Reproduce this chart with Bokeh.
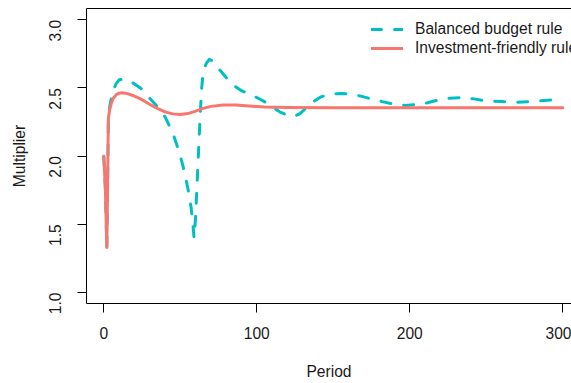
from bokeh.plotting import figure
from bokeh.models import (Range1d, FixedTicker, LinearAxis, Legend, LegendItem,
                          PrintfTickFormatter, ColumnDataSource)
from bokeh.embed import file_html
from bokeh.resources import INLINE
import math

# Multiplier paths by period under the two fiscal rules
balanced_period = [0, 1, 2, 3, 4, 5, 6, 8, 10, 13, 16, 20, 24, 28, 32, 36, 40, 43,
                   46, 49, 51, 53, 55, 57, 58, 59, 60, 61, 62, 63, 64, 65, 67, 69,
                   71, 73, 76, 79, 82, 86, 90, 95, 100, 105, 110, 115, 120, 124,
                   128, 132, 137, 142, 148, 155, 162, 168, 175, 182, 190, 197,
                   204, 211, 218, 226, 234, 242, 250, 260, 270, 280, 290, 300]
balanced_value = [2.00, 1.77, 1.33, 2.28, 2.37, 2.43, 2.48, 2.53, 2.56, 2.565, 2.555,
                  2.53, 2.50, 2.45, 2.40, 2.35, 2.29, 2.22, 2.14, 2.04, 1.96, 1.87,
                  1.76, 1.63, 1.53, 1.40, 1.55, 1.80, 2.05, 2.30, 2.50, 2.62, 2.68,
                  2.71, 2.70, 2.67, 2.63, 2.59, 2.55, 2.51, 2.48, 2.455, 2.43, 2.40,
                  2.36, 2.325, 2.30, 2.29, 2.31, 2.35, 2.40, 2.435, 2.455, 2.46,
                  2.455, 2.44, 2.42, 2.40, 2.38, 2.372, 2.378, 2.39, 2.41, 2.425,
                  2.43, 2.42, 2.405, 2.40, 2.395, 2.40, 2.41, 2.415]

invest_period = [0, 1, 2, 3, 4, 5, 6, 8, 10, 12, 15, 19, 24, 30, 35, 40, 45, 50,
                 55, 60, 65, 70, 78, 86, 95, 105, 120, 150, 200, 250, 300]
invest_value = [2.00, 1.77, 1.33, 2.28, 2.35, 2.39, 2.42, 2.45, 2.462, 2.465, 2.46,
                2.445, 2.42, 2.38, 2.35, 2.325, 2.31, 2.305, 2.312, 2.33, 2.35,
                2.365, 2.375, 2.375, 2.368, 2.36, 2.357, 2.355, 2.355, 2.355, 2.355]

series_labels = ["Balanced budget rule", "Investment-friendly rule"]
x_ticks = [0, 100, 200, 300]
y_ticks = [1.0, 1.5, 2.0, 2.5, 3.0]

TEAL = "#00BFC4"
SALMON = "#F8766D"
FONT = "Liberation Sans"
FS = "15.6px"

p = figure(width=571, height=383, output_backend="svg", toolbar_location=None,
           x_range=Range1d(-11.3, 305.7), y_range=Range1d(0.919, 3.083),
           min_border_left=86, min_border_right=0, min_border_top=8,
           min_border_bottom=80, x_axis_type=None, y_axis_type=None)
p.outline_line_color = None
p.grid.visible = False
p.background_fill_color = "white"
p.border_fill_color = "white"

def style_axis(ax):
    ax.axis_line_color = "black"
    ax.axis_line_width = 1
    ax.major_tick_line_color = "black"
    ax.major_tick_in = 0
    ax.major_tick_out = 9
    ax.minor_tick_in = 0
    ax.minor_tick_out = 0
    ax.major_label_text_font = FONT
    ax.major_label_text_font_size = FS
    ax.major_label_text_color = "#1a1a1a"
    ax.axis_label_text_font = FONT
    ax.axis_label_text_font_size = FS
    ax.axis_label_text_font_style = "normal"
    ax.axis_label_text_color = "#1a1a1a"

xaxis = LinearAxis(ticker=FixedTicker(ticks=x_ticks), axis_label="Period")
style_axis(xaxis)
xaxis.major_label_standoff = 14
xaxis.axis_label_standoff = 21
p.add_layout(xaxis, "below")

yaxis = LinearAxis(ticker=FixedTicker(ticks=y_ticks), axis_label="Multiplier",
                   formatter=PrintfTickFormatter(format="%.1f"))
style_axis(yaxis)
yaxis.major_label_orientation = math.pi / 2
yaxis.major_label_standoff = 22
yaxis.axis_label_standoff = 13
p.add_layout(yaxis, "left")

# top edge of the box
top = LinearAxis(ticker=FixedTicker(ticks=[]))
top.axis_line_color = "black"
top.major_tick_out = 0
top.major_tick_in = 0
top.minor_tick_out = 0
top.minor_tick_in = 0
top.major_label_text_font_size = "0px"
top.major_label_standoff = 0
p.add_layout(top, "above")

src_b = ColumnDataSource(dict(x=balanced_period, y=balanced_value))
src_i = ColumnDataSource(dict(x=invest_period, y=invest_value))

r_b = p.line("x", "y", source=src_b, line_color=TEAL, line_width=3,
             line_dash="10 13", line_cap="round", line_join="round")
r_i = p.line("x", "y", source=src_i, line_color=SALMON, line_width=3,
             line_cap="round", line_join="round")

legend = Legend(items=[LegendItem(label=series_labels[0], renderers=[r_b]),
                       LegendItem(label=series_labels[1], renderers=[r_i])],
                location=(285, 246))
legend.border_line_color = None
legend.background_fill_alpha = 0
legend.padding = 0
legend.margin = 0
legend.spacing = 1
legend.glyph_width = 32
legend.glyph_height = 18
legend.label_height = 18
legend.label_standoff = 12
legend.label_text_font = FONT
legend.label_text_font_size = FS
legend.label_text_color = "#1a1a1a"
p.add_layout(legend, "center")

open("out.html", "w").write(file_html(p, INLINE))
